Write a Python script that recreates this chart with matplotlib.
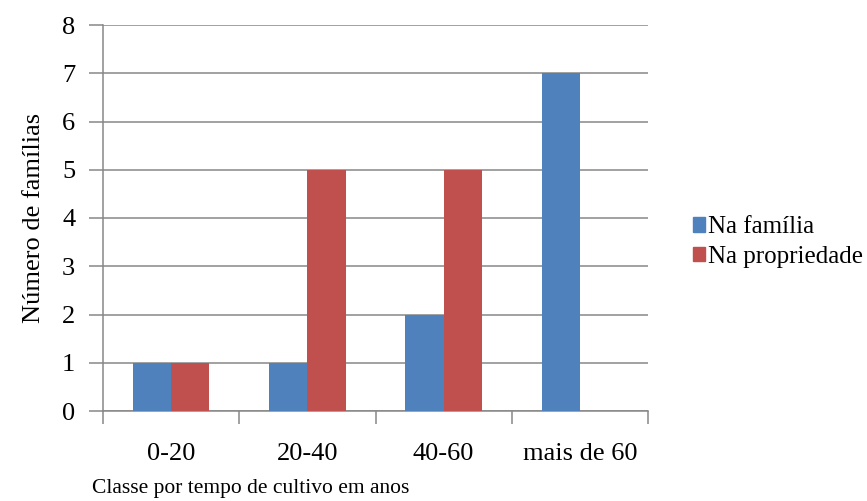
import numpy as np
import matplotlib
matplotlib.use('Agg')
import matplotlib.pyplot as plt
from matplotlib.patches import Patch

# Classes de tempo de cultivo e contagem de famílias
classes = ['0-20', '20-40', '40-60', 'mais de 60']
naFamilia = [1, 1, 2, 7]
naPropriedade = [1, 5, 5, 0]
seriesNames = ['Na família', 'Na propriedade']

BLUE = '#4F81BD'
RED = '#C0504D'
GRID = '#878787'
FONT = 'Liberation Serif'

plt.rcParams['font.family'] = FONT
plt.rcParams['font.size'] = 19

fig = plt.figure(figsize=(8.67, 5.01), dpi=100)
ax = fig.add_axes([103/867, 1-411/501, (648-103)/867, (411-25)/501])

x = np.arange(len(classes))
width = 0.28
ax.bar(x - width/2, naFamilia, width, color=BLUE, zorder=3)
ax.bar(x + width/2, naPropriedade, width, color=RED, zorder=3)

ax.set_xlim(-0.5, len(classes) - 0.5)
ax.set_ylim(0, 8)
ax.set_yticks(range(0, 9))

# category labels centered, tick marks between categories
ax.set_xticks(x)
ax.set_xticklabels(classes)
ax.set_xticks(np.arange(-0.5, len(classes), 1), minor=True)
ax.tick_params(axis='x', which='major', length=0, pad=23)
ax.tick_params(axis='x', which='minor', length=9, width=1.1, color=GRID, direction='out')
ax.tick_params(axis='y', length=10, width=1.1, color=GRID, pad=10)

ax.yaxis.grid(True, color=GRID, linewidth=1.1, zorder=0)
ax.set_axisbelow(True)
for side in ['top', 'right']:
    ax.spines[side].set_visible(False)
for side in ['left', 'bottom']:
    ax.spines[side].set_color(GRID)
    ax.spines[side].set_linewidth(1.1)

ax.set_ylabel('Número de famílias', labelpad=12)
ax.set_xlabel('Classe por tempo de cultivo em anos', fontsize=15.5)
ax.xaxis.set_label_coords(148/545, (411-489)/386)
ax.xaxis.label.set_verticalalignment('center')

handles = [Patch(color=BLUE), Patch(color=RED)]
fig.legend(handles, seriesNames, loc='center left', bbox_to_anchor=(680/867, 1-242/501),
           frameon=False, borderpad=0, handlelength=0.5, handleheight=0.5,
           handletextpad=0.1, labelspacing=0.3, prop={'family': FONT, 'size': 18})

fig.savefig('out.png', dpi=100)
